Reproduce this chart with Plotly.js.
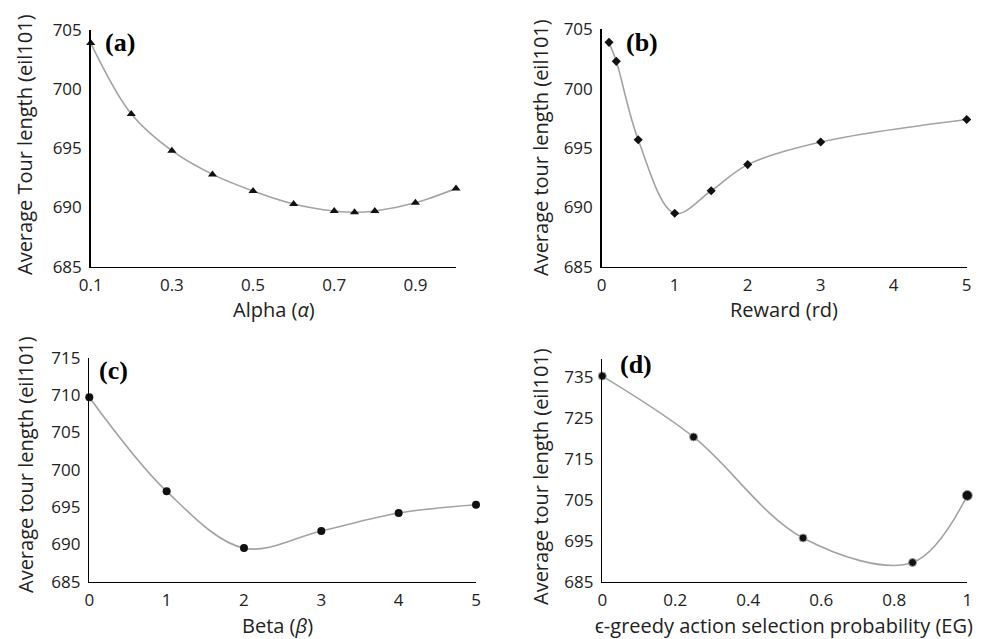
<!DOCTYPE html>
<html>
<head>
<meta charset="utf-8">
<script src="https://cdn.plot.ly/plotly-3.0.1.min.js"></script>
<style>html,body{margin:0;padding:0;background:#fff;}#chart{width:994px;height:639px;}</style>
</head>
<body>
<div id="chart"></div>
<script>
// Panel (a): Alpha
const alphaX = [0.1, 0.2, 0.3, 0.4, 0.5, 0.6, 0.7, 0.75, 0.8, 0.9, 1.0];
const alphaY = [703.9, 697.9, 694.8, 692.8, 691.4, 690.3, 689.7, 689.6, 689.7, 690.4, 691.6];
// Panel (b): Reward
const rewardX = [0.1, 0.2, 0.5, 1, 1.5, 2, 3, 5];
const rewardY = [703.9, 702.3, 695.7, 689.5, 691.4, 693.6, 695.5, 697.4];
// Panel (c): Beta
const betaX = [0, 1, 2, 3, 4, 5];
const betaY = [709.7, 697.1, 689.5, 691.8, 694.2, 695.3];
// Panel (d): epsilon-greedy
const egX = [0, 0.25, 0.55, 0.85, 1];
const egY = [735.3, 720.4, 695.7, 689.7, 706.1];

const ticksA = [0.1, 0.3, 0.5, 0.7, 0.9];
const ticksB = [0, 1, 2, 3, 4, 5];
const ticksD = [0, 0.2, 0.4, 0.6, 0.8, 1];
const yTicksAB = [685, 690, 695, 700, 705];
const yTicksC = [685, 690, 695, 700, 705, 710, 715];
const yTicksD = [685, 695, 705, 715, 725, 735];
const yTicksDText = ['685', '695', '705', '715', '725', '735'];

const lineStyle = {color: '#a3a3a3', width: 1.6, shape: 'spline', smoothing: 1};
const tickFont = {family: 'Open Sans, sans-serif', size: 17, color: '#222'};
const titleFont = {family: 'Open Sans, sans-serif', size: 20, color: '#222'};

function tr(x, y, xa, ya, sym, size) {
  return {
    x: x, y: y, xaxis: xa, yaxis: ya, type: 'scatter', mode: 'lines+markers',
    line: lineStyle, marker: {symbol: sym, size: size, color: '#111', opacity: 1},
    showlegend: false, cliponaxis: false, hoverinfo: 'x+y'
  };
}

const egSizes = egX.map((v, i) => i === egX.length - 1 ? 10 : 8);

const data = [
  tr(alphaX, alphaY, 'x', 'y', 'triangle-up', 8),
  tr(rewardX, rewardY, 'x2', 'y2', 'diamond', 7),
  tr(betaX, betaY, 'x3', 'y3', 'circle', 8),
  tr(egX, egY, 'x4', 'y4', 'circle', egSizes)
];

function xax(dom, range, tv, anchor) {
  return {domain: dom, range: range, tickvals: tv, anchor: anchor,
    showgrid: false, zeroline: false, showline: true, linecolor: '#000', linewidth: 1.5,
    ticks: 'outside', ticklen: 2, tickcolor: 'rgba(0,0,0,0)', tickfont: tickFont, fixedrange: true};
}
function yax(dom, range, tv, anchor, tt) {
  const o = {domain: dom, range: range, tickvals: tv, anchor: anchor,
    showgrid: false, zeroline: false, showline: true, linecolor: '#000', linewidth: 1.5,
    ticks: 'outside', ticklen: 4, tickcolor: 'rgba(0,0,0,0)', tickfont: tickFont, fixedrange: true};
  if (tt) o.ticktext = tt;
  return o;
}

function ann(text, x, y, opts) {
  return Object.assign({text: text, x: x, y: y, xref: 'paper', yref: 'paper',
    showarrow: false, xanchor: 'center', yanchor: 'middle', font: titleFont}, opts || {});
}
const W = 994, H = 639;
const px = v => v / W, py = v => 1 - v / H;
const panelFont = {family: 'Liberation Serif, Times New Roman, serif', size: 26, color: '#000'};

const layout = {
  width: W, height: H, margin: {l: 0, r: 0, t: 0, b: 0},
  paper_bgcolor: '#fff', plot_bgcolor: '#fff',
  xaxis: xax([px(90.7), px(456)], [0.1, 1.0], ticksA, 'y'),
  yaxis: yax([py(266.7), py(30)], [685, 705], yTicksAB, 'x'),
  xaxis2: xax([px(601.7), px(966.7)], [0, 5], ticksB, 'y2'),
  yaxis2: yax([py(266.7), py(29.3)], [685, 705], yTicksAB, 'x2'),
  xaxis3: xax([px(89.3), px(476)], [0, 5], ticksB, 'y3'),
  yaxis3: yax([py(581.7), py(357.7)], [685, 715], yTicksC, 'x3'),
  xaxis4: xax([px(602.3), px(967.3)], [0, 1], ticksD, 'y4'),
  yaxis4: yax([py(581.7), py(359.3)], [685, 739.4], yTicksD, 'x4', yTicksDText),
  annotations: [
    ann('Average Tour length (eil101)', px(25), py(145), {textangle: -90}),
    ann('Average tour length (eil101)', px(540), py(148), {textangle: -90}),
    ann('Average tour length (eil101)', px(25), py(465), {textangle: -90}),
    ann('Average tour length (eil101)', px(540), py(477), {textangle: -90}),
    ann('Alpha (<i>α</i>)', px(274), py(309)),
    ann('Reward (rd)', px(784), py(309)),
    ann('Beta (<i>β</i>)', px(277), py(625)),
    ann('ϵ-greedy action selection probability (EG)', px(784), py(625)),
    ann('<b>(a)</b>', px(120), py(42), {font: panelFont}),
    ann('<b>(b)</b>', px(642), py(42), {font: panelFont}),
    ann('<b>(c)</b>', px(113), py(370), {font: panelFont}),
    ann('<b>(d)</b>', px(636), py(364), {font: panelFont})
  ]
};

Plotly.newPlot('chart', data, layout, {displayModeBar: false, staticPlot: true});
</script>
</body>
</html>
